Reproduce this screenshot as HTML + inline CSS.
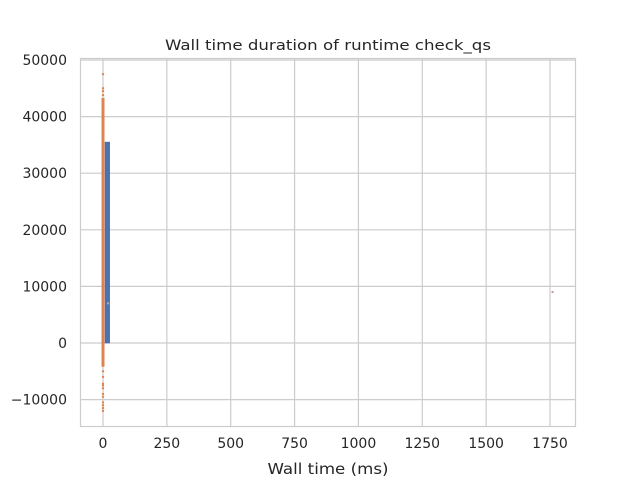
<!DOCTYPE html>
<html><head><meta charset="utf-8"><style>
body{margin:0;background:#fff;font-family:"DejaVu Sans","Liberation Sans",sans-serif}
svg text{fill:#262626;font-family:"DejaVu Sans","Liberation Sans",sans-serif}
</style></head><body>
<svg id="c" width="640" height="480">
<rect x="80.5" y="58.5" width="495" height="368" fill="#fff" stroke="#ccc" stroke-width="1.2"/>
<g id="grid"></g><g id="marks"></g><g id="ticks"></g>
<text x="328" y="50" text-anchor="middle" font-size="14.5" textLength="326" lengthAdjust="spacingAndGlyphs">Wall time duration of runtime check_qs</text>
<text x="328" y="474" text-anchor="middle" font-size="15.5" textLength="121" lengthAdjust="spacingAndGlyphs">Wall time (ms)</text>
</svg>
<script>
const xTicks=[0,250,500,750,1000,1250,1500,1750];
const yTicks=[-10000,0,10000,20000,30000,40000,50000];
const barStarts=[8];
const barEnds=[26];
const barCounts=[35500];
const stripX=[0,0,0,0,0,0,0,0,0,0,0,0,0,0,0,20,1760];
const stripY=[47500,45000,44500,43800,-5000,-6000,-7200,-8000,-9000,-9500,-10500,-11000,-12000,-11500,-7500,7000,9000];
const ns="http://www.w3.org/2000/svg";
const X=v=>103+v*0.25543, Y=v=>343-v*0.00566;
function mk(t,a,p){const e=document.createElementNS(ns,t);for(const k in a)e.setAttribute(k,a[k]);document.getElementById(p).appendChild(e);return e;}
xTicks.forEach(t=>{
 const l=mk('line',{x1:X(t),x2:X(t),y1:59,y2:426,stroke:'#ccc','stroke-width':1.2},'grid');
 
 
 const s=mk('text',{x:X(t),y:448,'text-anchor':'middle','font-size':14},'ticks');s.textContent=t;
 
 
});
yTicks.forEach(t=>{
 const l=mk('line',{x1:81,x2:575,y1:Y(t),y2:Y(t),stroke:'#ccc','stroke-width':1.2},'grid');
 
 
 const s=mk('text',{x:67,y:Y(t)+5,'text-anchor':'end','font-size':14},'ticks');s.textContent=t<0?'\u2212'+(-t):t;
 
 
});
barCounts.forEach((c,i)=>{
 const r=mk('rect',{x:X(barStarts[i]),y:Y(c),width:X(barEnds[i])-X(barStarts[i]),height:Y(0)-Y(c),fill:'#4c72b0',stroke:'#3f64a0','stroke-width':0.5},'marks');
 
 
});
const band=mk('rect',{x:X(0)-1.5,y:Y(43300),width:3,height:Y(-4200)-Y(43300),fill:'#dd8452'},'marks');


stripX.forEach((x,i)=>{
 const c=mk('circle',{cx:X(x),cy:Y(stripY[i]),r:1.2,fill:i>=stripX.length-2?'#c0a0a0':'#dd8452'},'marks');
 
 
});
</script>
</body></html>
